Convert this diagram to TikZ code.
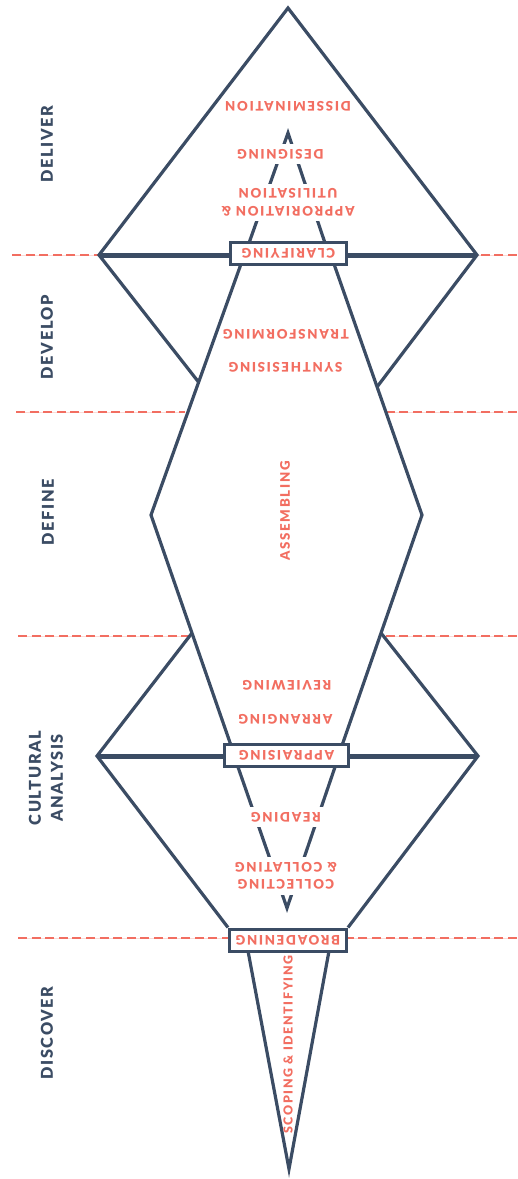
\documentclass[tikz,border=0pt]{standalone}
\usepackage{fontspec}
\setmainfont{Lato}
\usepackage{xcolor}
\usepackage{tikz}
\usetikzlibrary{positioning}

\definecolor{slate}{HTML}{3B4C64}
\definecolor{salmon}{HTML}{F26E61}
\newfontfamily\stagefont{Lato}[LetterSpace=10,BoldFont={Lato Black}]
\newfontfamily\termfont{Lato}[LetterSpace=13,BoldFont={Lato Black}]
\newcommand\upend[1]{\rotatebox[origin=c]{180}{#1}}
\pgfdeclarelayer{background}
\pgfsetlayers{background,main}

\begin{document}
\begin{tikzpicture}[x=1pt,y=-1pt,
    outline/.style={draw=slate,line width=3.2pt,line join=miter},
    bar/.style={draw=slate,line width=5pt},
    phaseline/.style={salmon,line width=2.6pt,dash pattern=on 9pt off 4.6pt},
    phasefaint/.style={salmon!25,line width=0.8pt},
    stage/.style={text=slate,font=\stagefont\bfseries\fontsize{16.3}{22}\selectfont,rotate=90,align=center,inner sep=0pt},
    term/.style={text=salmon,font=\termfont\bfseries\fontsize{13.2}{17.5}\selectfont,rotate=180,align=center,inner sep=0pt},
    gap/.style={term,fill=white,inner xsep=2pt,inner ysep=5pt},
    gate/.style={draw=slate,line width=3pt,fill=white,minimum width=116pt,minimum height=22pt,inner sep=0pt,
        text=salmon,font=\termfont\bfseries\fontsize{13.2}{15}\selectfont}]
    \useasboundingbox (0,0) rectangle (518,1179);

    % stages on the left
    \node[stage] (deliver) at (47,144) {DELIVER};
    \node[stage] (develop) at (47,337) {DEVELOP};
    \node[stage] (define) at (48,512) {DEFINE};
    \node[stage] (cultural) at (46,778) {CULTURAL\\ANALYSIS};
    \node[stage] (discover) at (47,1033) {DISCOVER};

    % gates
    \node[gate] (clar) at (288.5,253) {\upend{CLARIFYING}};
    \node[gate,minimum width=124pt] (appr) at (286.5,755) {\upend{APPRAISING}};
    \node[gate,minimum width=117pt] (broad) at (288,940) {\upend{BROADENING}};

    % steps
    \node[term] (dissem) at (288,106) {DISSEMINATION};
    \node[gap] (designing) at (280.5,154) {DESIGNING};
    \node[gap] (approp) at (288,202.5) {APPRORIATION \&\\UTILISATION};
    \node[term] (transf) at (286,334) {TRANSFORMING};
    \node[term] (synth) at (285.5,367) {SYNTHESISING};
    \node[term,rotate=-90] (assem) at (285,511) {ASSEMBLING};
    \node[term] (review) at (287,685.5) {REVIEWING};
    \node[term] (arrang) at (285.5,719) {ARRANGING};
    \node[gap] (reading) at (286,817) {READING};
    \node[gap] (collect) at (286,876) {COLLECTING\\\& COLLATING};
    \node[term,rotate=-90,font=\termfont\bfseries\fontsize{12.4}{15}\selectfont] (scoping) at (288,1044.5) {SCOPING \& IDENTIFYING};

    \begin{pgfonlayer}{background}
        % phase borders
        \foreach \y/\a/\b/\c in {255/12/99/477, 412/16/185/386, 636/18/191/383, 938/18/229/347} {
            \draw[phasefaint] (\a,\y) -- (\b,\y);
            \draw[phasefaint] (\c,\y) -- (517,\y);
            \draw[phaseline] (\a,\y) -- (\b,\y);
            \draw[phaseline] (517,\y) -- (\c,\y);
        }

        \coordinate (apex) at (288,8);
        \coordinate (dl) at (99,255);
        \coordinate (dr) at (477,255);
        \coordinate (ml) at (198.5,382);
        \coordinate (mr) at (377,387);
        \coordinate (hl) at (151,515);
        \coordinate (hr) at (422,515);
        \coordinate (ht1) at (241,264);
        \coordinate (ht2) at (334,264);
        \coordinate (hb1) at (230.5,744);
        \coordinate (hb2) at (342.5,744);
        \coordinate (cl) at (192,633);
        \coordinate (cr) at (381,633);
        \coordinate (al) at (97,756);
        \coordinate (ar) at (478,756);
        \coordinate (up) at (288,133);
        \coordinate (down) at (287,908);
        \coordinate (tip) at (289,1169);

        \draw[outline] (ml) -- (dl) -- (apex) -- (dr) -- (mr);
        \draw[outline] (ht1) -- (hl) -- (hb1);
        \draw[outline] (ht2) -- (hr) -- (hb2);
        \draw[outline] (cl) -- (al) -- (broad.north west);
        \draw[outline] (cr) -- (ar) -- (broad.north east);
        \draw[outline] (248,951) -- (tip) -- (329,951);
        \draw[outline] (249,243) -- (up) -- (325,243);
        \draw[outline] (238,767) -- (down) -- (335,767);
        \draw[bar] (dl) -- (dr);
        \draw[bar] (al) -- (ar);
    \end{pgfonlayer}
\end{tikzpicture}
\end{document}
